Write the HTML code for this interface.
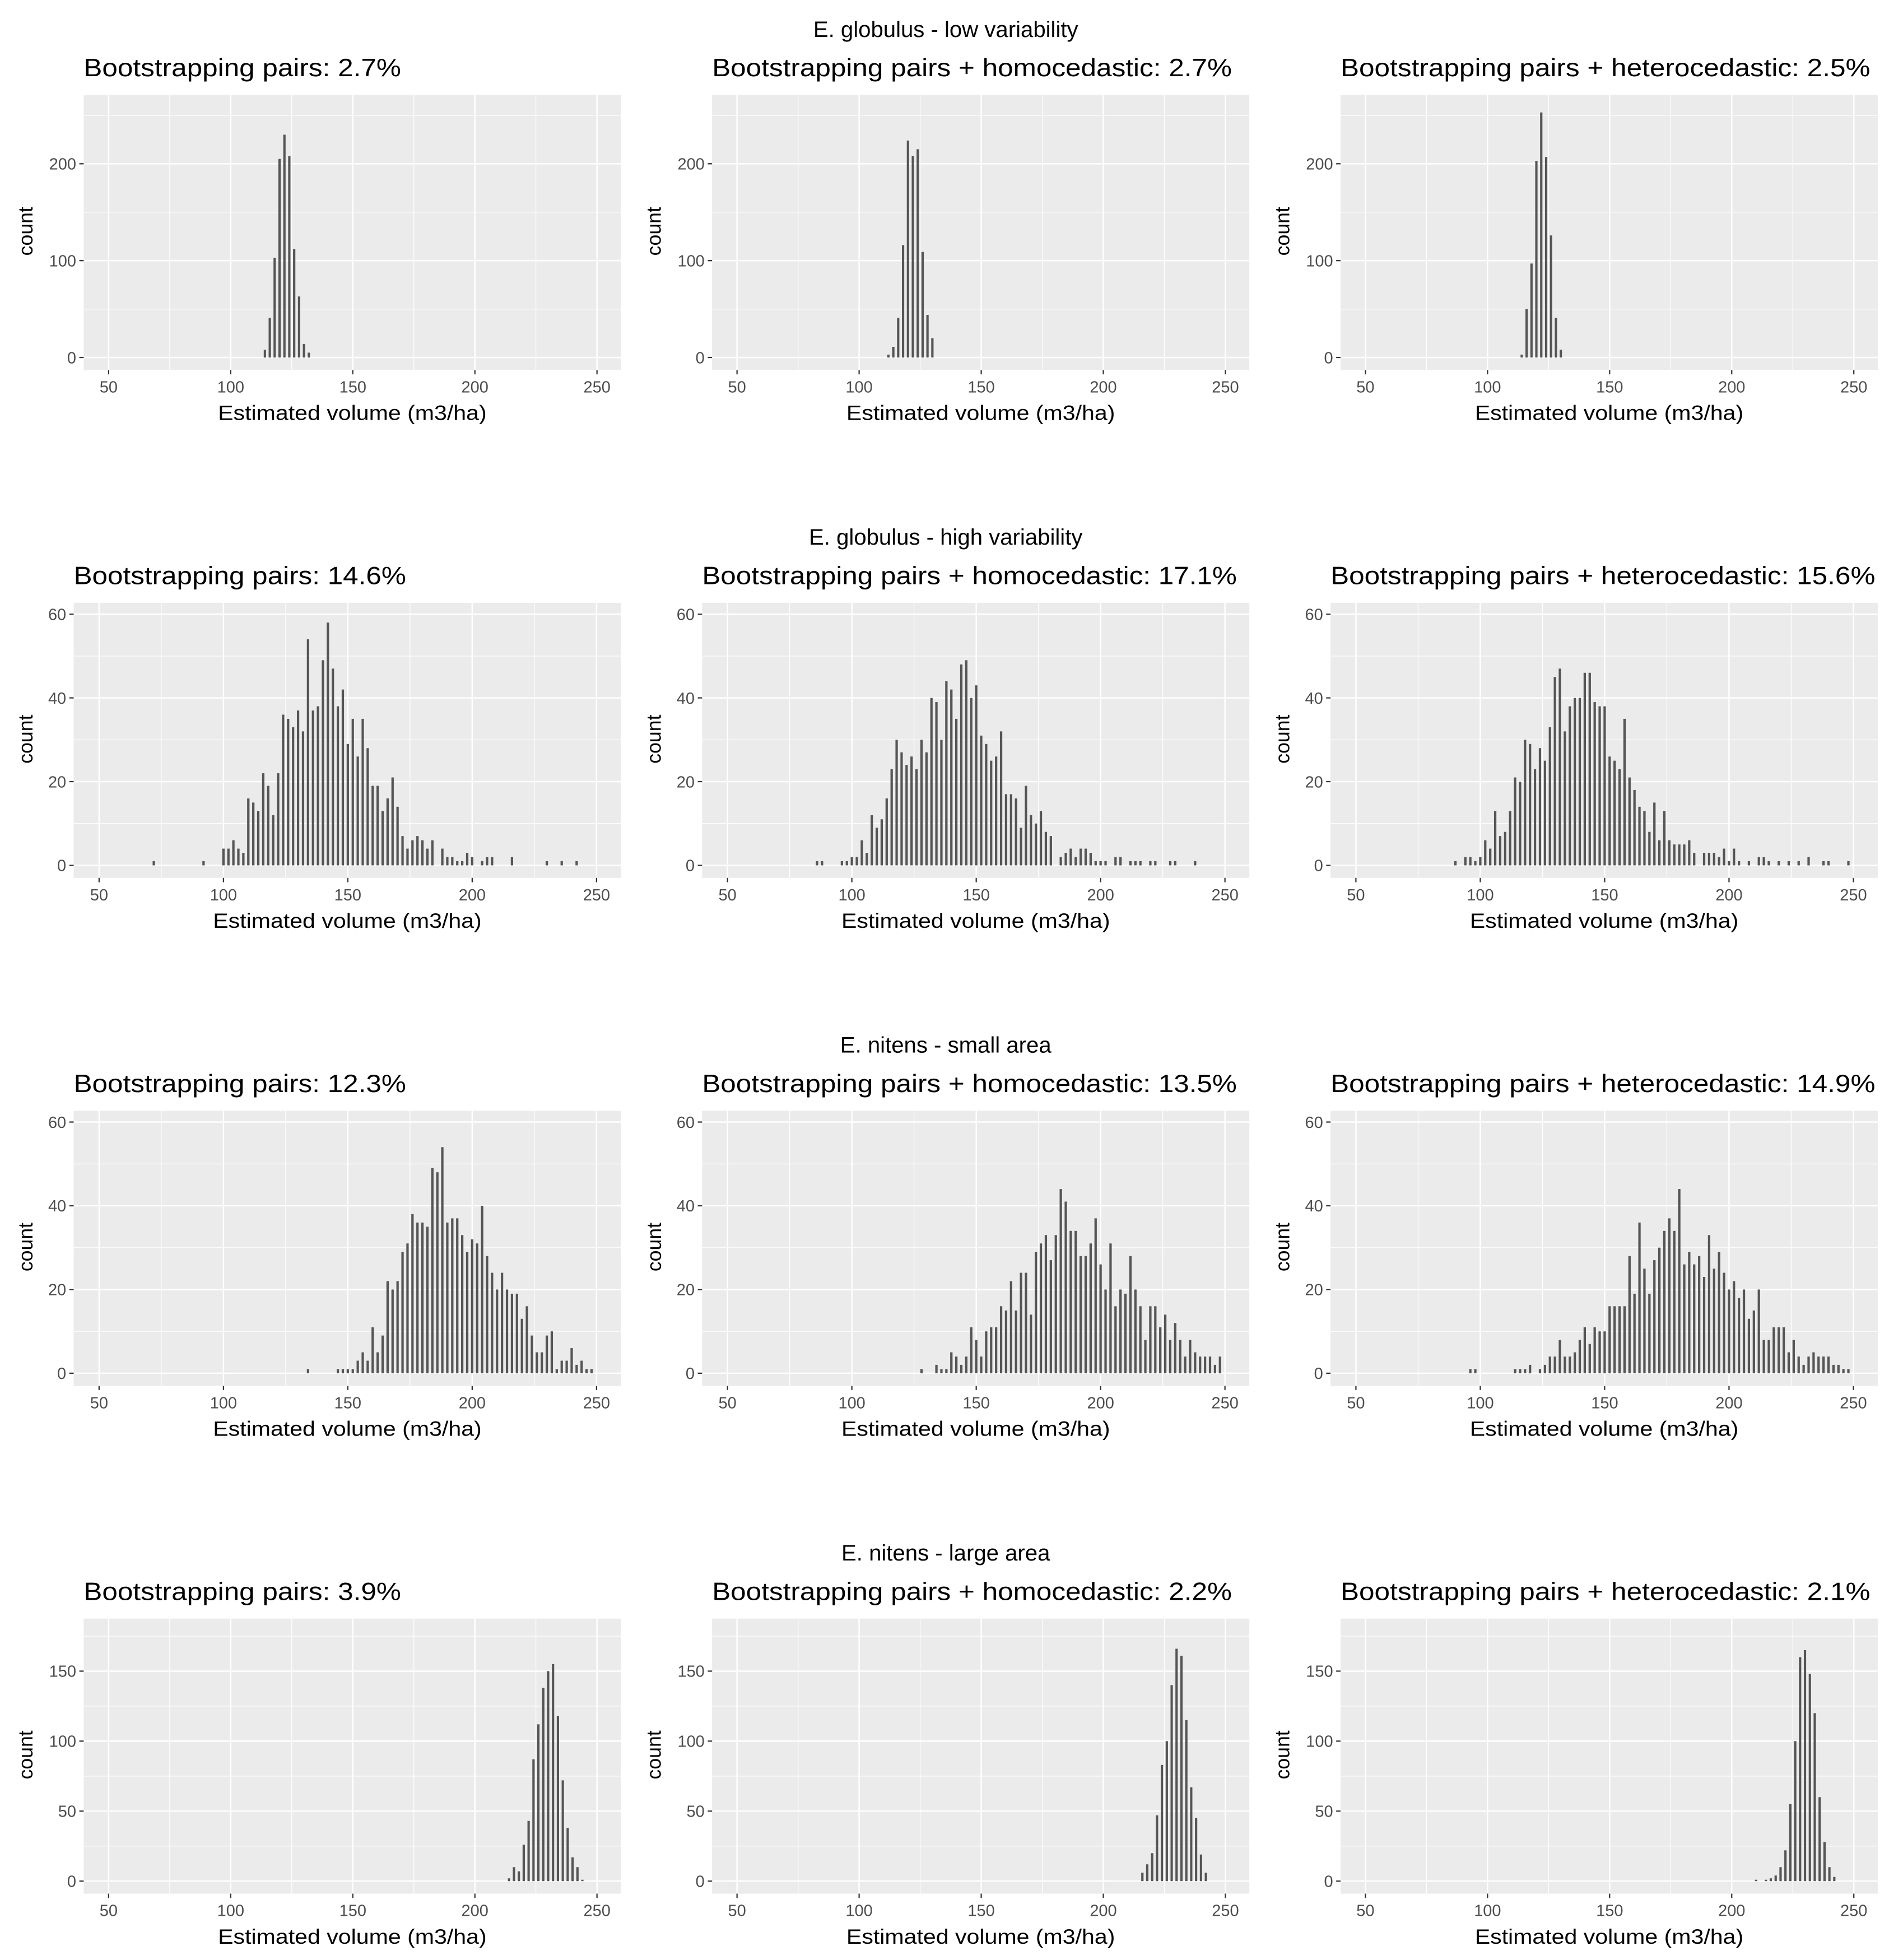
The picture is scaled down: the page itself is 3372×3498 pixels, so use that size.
<!DOCTYPE html>
<html>
<head>
<meta charset="utf-8">
<style>
  html, body { margin:0; padding:0; background:#ffffff; }
  svg { display:block; }
  text { font-family: "Liberation Sans", "DejaVu Sans", sans-serif; }
</style>
</head>
<body>
<svg id="fig" xmlns="http://www.w3.org/2000/svg" width="3372" height="3498" viewBox="0 0 1512 1568" preserveAspectRatio="none"></svg>
<script>
// ---------- data ----------
const rowTitles = ["E. globulus - low variability", "E. globulus - high variability", "E. nitens - small area", "E. nitens - large area"];
const panelTitles = [
  ["Bootstrapping pairs: 2.7%", "Bootstrapping pairs + homocedastic: 2.7%", "Bootstrapping pairs + heterocedastic: 2.5%"],
  ["Bootstrapping pairs: 14.6%", "Bootstrapping pairs + homocedastic: 17.1%", "Bootstrapping pairs + heterocedastic: 15.6%"],
  ["Bootstrapping pairs: 12.3%", "Bootstrapping pairs + homocedastic: 13.5%", "Bootstrapping pairs + heterocedastic: 14.9%"],
  ["Bootstrapping pairs: 3.9%", "Bootstrapping pairs + homocedastic: 2.2%", "Bootstrapping pairs + heterocedastic: 2.1%"]
];
const xTicks = [50, 100, 150, 200, 250];
const xMinor = [75, 125, 175, 225];
const yTicksRow = [[0, 100, 200], [0, 20, 40, 60], [0, 20, 40, 60], [0, 50, 100, 150]];
const yMinorRow = [[50, 150, 250], [10, 30, 50], [10, 30, 50], [25, 75, 125, 175]];
const yMaxRow = [271, 62.7, 62.7, 187.5];
const binWidth = 2;

const p11Start = 114;
const p11Counts = [8, 41, 103, 205, 230, 208, 112, 63, 14, 5];
const p12Start = 112;
const p12Counts = [3, 11, 41, 116, 224, 208, 215, 109, 44, 20];
const p13Start = 114;
const p13Counts = [3, 50, 97, 203, 253, 207, 126, 41, 8];

const p21Start = 72;
const p21Counts = [1, 0,0,0,0,0,0,0,0,0, 1, 0,0,0,
  4,4,6,4,3,16,15,13,22,19, 12,22,36,35,33,37,32,54,37,38, 49,58,47,38,42,29,35,26,35,28,
  19,19,13,16,21,14,7,4,6,7, 6,4,6,0,4,2,2,1,1,3, 2,0,1,2,2,0,0,0,2,
  0,0,0,0,0,0, 1,0,0,1,0,0,1];
const p22Start = 86;
const p22Counts = [1,1,0,0,0,1,1,
  2,2,6,3,12,9,11,16,23,30, 27,24,26,23,30,27,40,39,30,44, 42,35,48,49,40,43,31,29,25,26,
  32,17,17,16,9,19,12,10,13,8, 7,
  0,2,3,4,2,4,4,3,1,1,1,0,2,2,0,1,1,1,0,1,1,0,0,1,1,0,0,0,1];
const p23Start = 90;
const p23Counts = [1,0,2,2,1, 2,6,4,13,7,8,13,21,20,30, 29,23,28,25,33,45,47,32,38,40,
  40,46,46,39,38,38,26,25,23,35, 21,18,14,13,8,15,6,13,6,5, 5,5,6,3,0,3,3,3,2,4,
  1,4,1,0,1,0,2,2,1,0, 1,0,1,0,1,0,2,0,0,1, 1,0,0,0,1];

const p31Start = 134;
const p31Counts = [1,0,0,0,0,0, 1,1,1,1,3,5,3,11,5,9, 22,20,22,29,31,38,36,36,35,49,
  48,54,36,37,37,33,29,32,31,40, 28,24,20,24,20,19,19,13,16,9, 5,5,9,10,1,3,3,6,2,3, 1,1];
const p32Start = 128;
const p32Counts = [1,0,0,2,1,1,5,4,2,4, 11,8,4,10,11,11,16,15,22,15, 24,24,14,29,31,33,27,33,44,41,
  34,34,28,28,31,37,26,20,31,16, 20,19,28,20,16,8,16,16,11,14, 8,12,8,4,8,5,4,4,4,2, 4];
const p33Start = 96;
const p33Counts = [1,1,0,0,0,0,0,0,0, 1,1,1,2,0,1,2,4,4,8, 4,4,5,8,11,7,11,10,10,16,
  16,16,16,28,19,36,25,19,27,30, 34,37,34,44,26,29,26,28,23,33, 25,29,24,20,22,18,20,13,15,20,
  8,8,11,11,11,5,8,4,2,4, 5,4,4,4,2,2,1,1];

const p41Start = 214;
const p41Counts = [2, 10, 7, 26, 43, 87, 112, 138, 150, 155, 118, 72, 38, 17, 10, 1];
const p42Start = 216;
const p42Counts = [6, 12, 20, 47, 83, 100, 140, 166, 161, 115, 67, 45, 19, 6];
const p43Start = 210;
const p43Counts = [1, 0, 1, 2, 4, 10, 22, 55, 100, 160, 165, 148, 120, 60, 28, 10, 3];

const panelStarts = [[p11Start, p12Start, p13Start], [p21Start, p22Start, p23Start], [p31Start, p32Start, p33Start], [p41Start, p42Start, p43Start]];
const panelCounts = [[p11Counts, p12Counts, p13Counts], [p21Counts, p22Counts, p23Counts], [p31Counts, p32Counts, p33Counts], [p41Counts, p42Counts, p43Counts]];

// ---------- layout ----------
const NS = "http://www.w3.org/2000/svg";
const svg = document.getElementById("fig");
const ROW_STEP = 406.3;
const COL_STEP = 503;
const X_DOMAIN = [39.8, 259.8];

function mk(tag, attrs, parent) {
  const el = document.createElementNS(NS, tag);
  for (const k in attrs) el.setAttribute(k, attrs[k]);
  (parent || svg).appendChild(el);
  return el;
}

for (let r = 0; r < 4; r++) {
  const dy = r * ROW_STEP;
  const rt = mk("text", {x: 757, y: 29.5 + dy, "text-anchor": "middle", "font-size": 18, fill: "#000"});
  
  
  rt.textContent = rowTitles[r];

  const narrow = (r === 1 || r === 2);
  for (let c = 0; c < 3; c++) {
    const L = (narrow ? 59 : 67) + c * COL_STEP;
    const R = 497 + c * COL_STEP;
    const T = 76 + dy, B = 296 + dy;
    const y0 = 286 + dy;
    const ymax = yMaxRow[r];
    const xs = v => L + (v - X_DOMAIN[0]) / (X_DOMAIN[1] - X_DOMAIN[0]) * (R - L);
    const ys = v => y0 - v / ymax * (y0 - T);

    const g = mk("g", {});
    
    

    const bg = mk("rect", {x: L, y: T, width: R - L, height: B - T, fill: "#EBEBEB"}, g);
    
    

    // minor grid
    for (const v of xMinor) {
      const ln = mk("line", {x1: xs(v), x2: xs(v), y1: T, y2: B, stroke: "#fff", "stroke-width": 0.55}, g);
      
      
    }
    for (const v of yMinorRow[r]) {
      if (ys(v) < T) continue;
      const ln = mk("line", {x1: L, x2: R, y1: ys(v), y2: ys(v), stroke: "#fff", "stroke-width": 0.55}, g);
      
      
    }
    // major grid
    for (const v of xTicks) {
      const ln = mk("line", {x1: xs(v), x2: xs(v), y1: T, y2: B, stroke: "#fff", "stroke-width": 1.1}, g);
      
      
    }
    for (const v of yTicksRow[r]) {
      const ln = mk("line", {x1: L, x2: R, y1: ys(v), y2: ys(v), stroke: "#fff", "stroke-width": 1.1}, g);
      
      
    }

    // bars
    const start = panelStarts[r][c];
    const counts = panelCounts[r][c];
    counts.forEach((cnt, i) => {
      if (cnt <= 0) return;
      const center = start + i * binWidth;
      const bw = binWidth * 0.475;
      const bar = mk("rect", {x: xs(center - bw / 2), y: ys(cnt), width: xs(center + bw / 2) - xs(center - bw / 2), height: y0 - ys(cnt), fill: "#555555"}, g);
      
      
    });

    // y ticks
    for (const v of yTicksRow[r]) {
      const tk = mk("line", {x1: L - 3.5, x2: L, y1: ys(v), y2: ys(v), stroke: "#333", "stroke-width": 1}, g);
      
      
      const lb = mk("text", {x: L - 6, y: ys(v) + 4.6, "text-anchor": "end", "font-size": 13, fill: "#4D4D4D"}, g);
      
      
      lb.textContent = v;
    }
    // x ticks
    for (const v of xTicks) {
      const tk = mk("line", {x1: xs(v), x2: xs(v), y1: B, y2: B + 3.5, stroke: "#333", "stroke-width": 1}, g);
      
      
      const lb = mk("text", {x: xs(v), y: B + 18, "text-anchor": "middle", "font-size": 13, fill: "#4D4D4D"}, g);
      
      
      lb.textContent = v;
    }
    // x title
    const xt = mk("text", {x: (L + R) / 2, y: B + 40, "text-anchor": "middle", "font-size": 16.5, fill: "#000", textLength: 215, lengthAdjust: "spacingAndGlyphs"}, g);
    
    
    xt.textContent = "Estimated volume (m3/ha)";
    // y title
    const yx = 26 + c * COL_STEP, yy = 185 + dy;
    const yt = mk("text", {x: yx, y: yy, "text-anchor": "middle", "font-size": 16, fill: "#000", transform: "rotate(-90 " + yx + " " + yy + ")"}, g);
    
    
    yt.textContent = "count";
    // panel title
    const tl = panelTitles[r][c];
    const tw = (c === 0 ? 254 : (c === 1 ? 416 : 424)) + (narrow ? 12 : 0);
    const pt = mk("text", {x: L, y: 61 + dy, "font-size": 20, fill: "#000", textLength: tw, lengthAdjust: "spacingAndGlyphs"}, g);
    
    
    pt.textContent = tl;
  }
}
</script>
</body>
</html>
